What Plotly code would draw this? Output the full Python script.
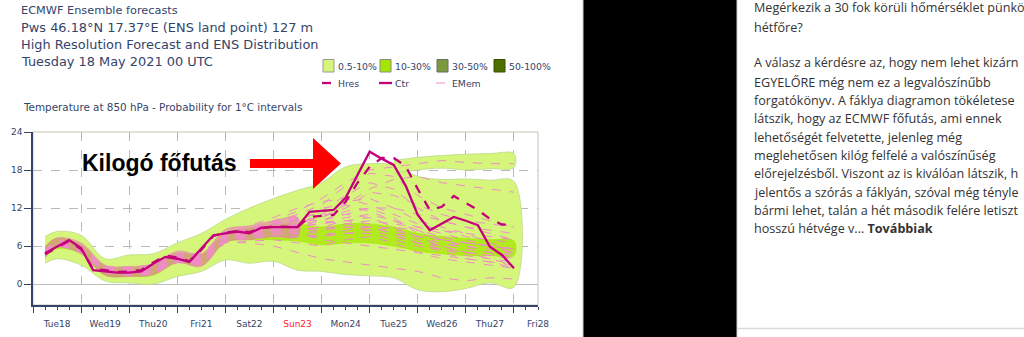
import plotly.graph_objects as go

W, H = 1024, 337
L, R, T, B = 33, 538, 132, 305  # plot area in pixels


def px(x):
    return (x - L) / (R - L)


def py(y):
    return (B - y) / (B - T)


# ---------------- data ----------------
day_labels = ["Tue18", "Wed19", "Thu20", "Fri21", "Sat22", "Sun23",
              "Mon24", "Tue25", "Wed26", "Thu27", "Fri28"]
y_ticks = [0, 6, 12, 18, 24]

hours_det = list(range(6, 241, 6))
ctr = [4.85, 5.9, 6.95, 5.7, 2.2, 2.0, 1.8, 1.8, 2.0, 3.2, 4.3, 4.0, 3.5, 5.6,
       7.7, 8.0, 8.3, 8.0, 8.9, 9.0, 9.0, 9.0, 11.4, 11.6, 11.7, 13.6, 17.2,
       20.9, 19.8, 18.8, 15.5, 10.9, 8.5, 9.5, 10.6, 10.0, 9.3, 5.9, 4.6, 2.5]
hres = [4.7, 5.8, 6.8, 5.5, 2.4, 2.2, 1.9, 2.0, 2.2, 3.4, 4.5, 4.2, 3.6, 5.4,
        7.6, 8.1, 8.4, 8.2, 8.8, 9.1, 9.0, 9.0, 10.6, 10.8, 10.9, 13.0, 16.0,
        18.5, 19.9, 19.9, 18.6, 15.0, 11.7, 12.2, 13.9, 12.8, 11.7, 10.3, 9.4, 9.3]

hours_ens = [6, 12, 24, 36, 48, 60, 72, 84, 96, 108, 120, 132, 144, 156, 168,
             180, 192, 204, 216, 228, 240]
env_upper = [7.5, 8.3, 7.7, 4.0, 4.6, 4.8, 6.5, 8.0, 10.2, 12.0, 13.5, 14.8,
             16.0, 18.5, 19.0, 18.8, 17.0, 16.5, 16.6, 16.4, 16.2]
env_lower = [3.3, 4.0, 3.0, 0.5, 0.2, 0.0, 1.2, 2.0, 3.8, 3.3, 3.6, 2.2, 2.0,
             1.5, 1.3, 1.0, -0.9, -1.2, -0.7, 0.2, -0.5]
mid_upper = [6.0, 7.2, 6.2, 2.8, 2.6, 2.9, 4.8, 4.6, 8.0, 8.8, 9.3, 9.5, 9.0,
             9.5, 9.5, 9.0, 8.0, 7.5, 7.2, 7.0, 6.8]
mid_lower = [4.2, 5.6, 4.8, 1.4, 1.2, 1.4, 3.4, 3.0, 6.6, 7.0, 7.0, 6.8, 6.2,
             6.5, 6.5, 6.0, 5.2, 4.8, 4.5, 4.5, 4.5]

hours_branch = [180, 192, 204, 216, 228, 240]
branch_top = [19.5, 20.0, 20.3, 20.5, 20.6, 20.6]
branch_bottom = [17.5, 18.0, 18.3, 18.0, 18.2, 18.4]

hours_core = [6, 12, 24, 36, 48, 60, 72, 84, 96, 108, 120, 132]
core_upper = [5.8, 7.3, 6.5, 3.0, 2.8, 3.2, 5.2, 4.8, 8.6, 9.2, 10.0, 10.5]
core_lower = [4.2, 5.8, 4.8, 1.4, 1.2, 1.5, 3.4, 2.8, 6.6, 7.0, 7.5, 7.5]

mem01 = [5.2, 6.8, 5.8, 2.5, 2.0, 2.6, 4.5, 4.0, 7.8, 8.5, 9.5, 10.0, 11.5, 14.0, 16.0, 15.0, 12.0, 10.0, 9.0, 8.0, 7.0]
mem02 = [4.8, 6.3, 5.2, 2.0, 1.6, 1.8, 3.8, 3.2, 7.0, 7.5, 8.0, 8.0, 7.5, 8.5, 9.0, 8.0, 6.5, 5.5, 4.5, 4.0, 3.5]
mem03 = [5.0, 6.6, 5.6, 2.4, 2.2, 2.4, 4.4, 4.2, 7.6, 8.8, 9.8, 11.0, 12.5, 15.5, 17.5, 17.0, 14.0, 12.0, 11.0, 10.0, 9.0]
mem04 = [4.6, 6.2, 5.0, 1.8, 1.4, 1.6, 3.4, 3.0, 6.5, 6.8, 7.0, 6.5, 6.0, 7.0, 7.5, 6.5, 5.0, 4.0, 3.5, 3.0, 2.5]
mem05 = [5.4, 7.0, 6.0, 2.8, 2.6, 3.0, 4.8, 4.8, 8.2, 9.2, 10.5, 12.0, 13.0, 13.5, 12.5, 11.0, 9.5, 8.5, 7.5, 7.0, 6.5]
mem06 = [5.1, 6.5, 5.4, 2.1, 1.8, 2.0, 4.0, 3.6, 7.2, 7.8, 8.5, 9.0, 10.0, 11.5, 12.0, 10.5, 8.0, 7.0, 6.5, 6.0, 5.5]
mem07 = [4.9, 6.4, 5.3, 2.3, 2.0, 2.1, 4.1, 3.5, 6.8, 7.2, 7.8, 8.5, 9.0, 10.0, 10.5, 9.0, 7.0, 6.0, 5.0, 4.5, 4.0]
mem08 = [5.3, 6.9, 5.9, 2.6, 2.4, 2.8, 4.6, 4.5, 8.0, 9.0, 9.0, 8.0, 7.0, 6.5, 6.0, 5.5, 5.0, 4.5, 4.0, 3.5, 3.0]
mem09 = [5.0, 6.7, 5.7, 2.2, 1.7, 1.9, 3.9, 3.4, 7.4, 8.0, 8.6, 9.5, 11.0, 13.0, 13.5, 12.0, 10.0, 9.0, 8.0, 6.5, 5.5]
mem10 = [4.7, 6.1, 5.1, 1.9, 1.5, 1.7, 3.6, 3.3, 7.1, 7.6, 8.2, 8.8, 8.5, 9.5, 10.0, 9.5, 9.0, 8.0, 7.0, 6.0, 5.0]
mem11 = [5.2, 6.6, 5.5, 2.5, 2.3, 2.5, 4.3, 3.9, 7.7, 8.4, 9.2, 10.5, 12.0, 12.5, 11.5, 10.0, 8.5, 7.5, 6.5, 6.0, 5.5]
mem12 = [5.0, 6.4, 5.6, 2.0, 1.8, 2.2, 4.0, 3.7, 7.3, 8.1, 8.8, 9.2, 9.5, 10.0, 9.5, 8.5, 7.5, 6.5, 5.5, 5.0, 4.5]
mem13 = [5.1, 6.7, 5.7, 2.4, 2.1, 2.3, 4.2, 4.0, 7.5, 8.6, 10.0, 11.5, 13.5, 16.0, 18.0, 18.5, 19.0, 19.5, 19.2, 19.0, 19.0]
mem14 = [4.8, 6.2, 5.2, 1.9, 1.3, 1.5, 3.5, 3.1, 6.6, 6.5, 6.0, 5.0, 4.0, 3.5, 3.0, 2.5, 2.0, 1.0, 0.5, 1.0, 0.8]
mem15 = [5.0, 6.5, 5.5, 2.3, 2.1, 2.4, 4.3, 3.8, 7.4, 8.3, 9.0, 10.0, 10.5, 12.0, 14.5, 14.0, 12.5, 11.0, 10.0, 9.5, 9.0]
mem16 = [4.9, 6.3, 5.3, 2.0, 1.7, 1.9, 3.9, 3.5, 7.0, 7.4, 8.0, 8.2, 8.0, 8.0, 8.5, 9.0, 8.5, 7.0, 6.0, 5.0, 4.0]
mem17 = [5.2, 6.7, 5.7, 2.4, 2.2, 2.6, 4.5, 4.1, 7.9, 8.7, 9.5, 10.8, 11.0, 11.0, 10.5, 9.0, 7.5, 6.0, 5.0, 4.0, 3.0]
mem18 = [4.8, 6.4, 5.4, 2.1, 1.6, 1.8, 3.7, 3.3, 6.9, 7.3, 7.6, 7.5, 7.5, 8.0, 8.0, 7.0, 6.0, 5.5, 5.0, 4.5, 5.0]
mem19 = [5.1, 6.6, 5.6, 2.2, 1.9, 2.1, 4.1, 3.6, 7.5, 8.2, 9.0, 9.5, 10.5, 12.5, 15.0, 16.5, 17.0, 16.0, 15.5, 15.0, 14.5]
mem20 = [5.0, 6.5, 5.4, 2.3, 2.0, 2.3, 4.2, 3.9, 7.6, 8.4, 8.5, 8.0, 8.5, 9.0, 9.0, 8.0, 7.5, 7.0, 6.0, 5.5, 5.0]
mem21 = [4.7, 6.2, 5.2, 1.9, 1.6, 1.9, 3.8, 3.4, 7.2, 8.0, 8.6, 9.0, 9.5, 10.5, 11.0, 10.0, 9.0, 8.5, 8.0, 7.5, 7.0]
mem22 = [5.3, 6.8, 5.8, 2.6, 2.4, 2.7, 4.6, 4.3, 7.8, 8.8, 9.6, 10.2, 10.0, 9.5, 9.0, 8.0, 6.5, 5.0, 4.0, 3.5, 2.5]
mem23 = [4.9, 6.5, 5.5, 2.2, 1.8, 2.0, 4.0, 3.7, 7.3, 7.9, 8.4, 8.6, 9.0, 9.0, 8.5, 7.5, 6.5, 6.0, 6.5, 6.0, 5.5]
mem24 = [5.1, 6.6, 5.6, 2.3, 1.9, 2.2, 4.2, 3.8, 7.4, 8.2, 8.9, 9.4, 10.0, 11.0, 12.0, 12.0, 11.0, 10.0, 9.0, 8.5, 8.0]
members = [mem01, mem02, mem03, mem04, mem05, mem06, mem07, mem08, mem09,
           mem10, mem11, mem12, mem13, mem14, mem15, mem16, mem17, mem18,
           mem19, mem20, mem21, mem22, mem23, mem24]

# ---------------- styles ----------------
NAVY = "#34446a"
LIME = "#d5f67b"
GREEN = "#a4e600"
OLIVE = "#7a9a3c"
DARKG = "#4b7000"
PINK = "#f08cc8"
MAG = "#c4007a"
FONT = "DejaVu Sans"

fig = go.Figure()


def band(xs, up, lo, color, line_color=None):
    fig.add_trace(go.Scatter(
        x=list(xs) + list(xs)[::-1], y=list(up) + list(lo)[::-1],
        fill="toself", fillcolor=color, mode="lines",
        line=dict(color=line_color or color, width=0.8, shape="spline"),
        hoverinfo="skip", showlegend=False))


band(hours_ens, env_upper, env_lower, LIME, "#bcd98a")
band(hours_branch, branch_top, branch_bottom, LIME, "#bcd98a")
band(hours_ens, mid_upper, mid_lower, "rgba(164,230,0,0.75)")
band(hours_core, core_upper, core_lower, "rgba(236,110,185,0.55)")

for m in members:
    fig.add_trace(go.Scatter(x=hours_ens, y=m, mode="lines",
                             line=dict(color=PINK, width=1, dash="dash"),
                             hoverinfo="skip", showlegend=False))

fig.add_trace(go.Scatter(x=hours_det, y=hres, mode="lines",
                         line=dict(color=MAG, width=2.3, dash="dash"),
                         showlegend=False))
fig.add_trace(go.Scatter(x=hours_det, y=ctr, mode="lines",
                         line=dict(color=MAG, width=2.3),
                         showlegend=False))
# invisible trace that carries the day label axis
fig.add_trace(go.Scatter(x=[0], y=[0], xaxis="x2", mode="markers",
                         marker=dict(opacity=0), hoverinfo="skip",
                         showlegend=False))

XR = [0, 252]
fig.update_layout(
    width=W, height=H,
    margin=dict(l=L, r=W - R, t=T, b=H - B, autoexpand=False),
    paper_bgcolor="white", plot_bgcolor="white",
    font=dict(family=FONT, color=NAVY),
    xaxis=dict(range=XR, tickmode="linear", tick0=0, dtick=24,
               showticklabels=False, ticks="outside", ticklen=6,
               tickcolor=NAVY, tickwidth=1,
               minor=dict(dtick=6, ticks="outside", ticklen=3,
                          tickcolor=NAVY, showgrid=False),
               showgrid=True, gridcolor="#b9b9b9", griddash="dash",
               gridwidth=1, showline=True, linecolor=NAVY, linewidth=1.5,
               zeroline=False),
    xaxis2=dict(range=XR, overlaying="x", anchor="y", side="bottom",
                tickvals=[12 + 24 * i for i in range(len(day_labels))],
                ticktext=[("<span style='color:#ff2020'>%s</span>" % d)
                          if d.startswith("Sun") else d for d in day_labels],
                ticks="outside", ticklen=10, tickcolor="rgba(0,0,0,0)",
                tickfont=dict(size=9, color=NAVY), showgrid=False,
                showline=False, zeroline=False),
    yaxis=dict(range=[-3.3, 24], tickvals=y_ticks, ticks="outside",
               ticklen=7, tickcolor=NAVY, tickfont=dict(size=9, color=NAVY),
               showgrid=True, gridcolor="#b9b9b9", griddash="dash",
               zeroline=True, zerolinecolor="#bdbdbd", zerolinewidth=1,
               showline=True, linecolor=NAVY, linewidth=1.5),
)

shapes = []
# light frame around the plot area
shapes.append(dict(type="rect", xref="paper", yref="paper", x0=0, x1=1,
                   y0=0, y1=1, line=dict(color="#c9c3b5", width=1),
                   layer="below"))

# red arrow
arrow = [(250, 159), (313, 159), (313, 138), (341, 163.5), (313, 189),
         (313, 168), (250, 168)]
path = "M " + " L ".join("%.4f,%.4f" % (px(a), py(b)) for a, b in arrow) + " Z"
shapes.append(dict(type="path", xref="paper", yref="paper", path=path,
                   fillcolor="#ff0000", line=dict(color="#ff0000", width=0)))

# legend boxes
box_cols = [(LIME, "#9a9a9a"), (GREEN, "#8a8a8a"), (OLIVE, "#6a6a6a"),
            (DARKG, "#3a5000")]
box_x = [323, 380, 437, 494]
for (fc, lc), bx in zip(box_cols, box_x):
    shapes.append(dict(type="rect", xref="paper", yref="paper",
                       x0=px(bx), x1=px(bx + 11), y0=py(72), y1=py(59.5),
                       fillcolor=fc, line=dict(color=lc, width=1)))
# legend lines
shapes.append(dict(type="line", xref="paper", yref="paper", x0=px(322),
                   x1=px(335), y0=py(83), y1=py(83),
                   line=dict(color=MAG, width=2.3, dash="dash")))
shapes.append(dict(type="line", xref="paper", yref="paper", x0=px(379),
                   x1=px(392), y0=py(83), y1=py(83),
                   line=dict(color=MAG, width=2.3)))
shapes.append(dict(type="line", xref="paper", yref="paper", x0=px(436),
                   x1=px(449), y0=py(83), y1=py(83),
                   line=dict(color=PINK, width=1, dash="dash")))

# right side: black panel, separators
shapes.append(dict(type="rect", xref="paper", yref="paper", x0=px(583),
                   x1=px(737), y0=py(H + 2), y1=py(-2), fillcolor="#000000",
                   line=dict(color="#cfcfcf", width=1)))
shapes.append(dict(type="line", xref="paper", yref="paper", x0=px(738),
                   x1=px(1030), y0=py(328.5), y1=py(328.5),
                   line=dict(color="#d9d9de", width=1.5)))

annotations = []


def text(x, y, s, size, color=NAVY, family=FONT, xanchor="left", bold=False):
    annotations.append(dict(
        xref="paper", yref="paper", x=px(x), y=py(y), text=("<b>%s</b>" % s) if bold else s,
        showarrow=False, xanchor=xanchor, yanchor="middle",
        font=dict(size=size, color=color, family=family)))


text(19, 10, "ECMWF Ensemble forecasts", 11.3)
text(19, 27, "Pws 46.18°N 17.37°E (ENS land point) 127 m", 12.9)
text(19, 44, "High Resolution Forecast and ENS Distribution", 12.9)
text(19, 61, "Tuesday 18 May 2021 00 UTC", 12.9)
text(21, 106.5, "Temperature at 850 hPa - Probability for 1°C intervals", 10.4)

leg_txt = [("0.5-10%", 336), ("10-30%", 393), ("30-50%", 450), ("50-100%", 507)]
for s, x in leg_txt:
    text(x, 66, s, 9.3)
for s, x in [("Hres", 336), ("Ctr", 393), ("EMem", 450)]:
    text(x, 83, s, 9.3)

text(159, 163, "Kilogó főfutás", 23, color="#000000",
     family="Liberation Sans", xanchor="center", bold=True)

body = [
    (8, "Megérkezik a 30 fok körüli hőmérséklet pünkö"),
    (27, "hétfőre?"),
    (63, "A válasz a kérdésre az, hogy nem lehet kizárn"),
    (82, "EGYELŐRE még nem ez a legvalószínűbb"),
    (100, "forgatókönyv. A fáklya diagramon tökéletese"),
    (118.5, "látszik, hogy az ECMWF főfutás, ami ennek"),
    (137, "lehetőségét felvetette, jelenleg még"),
    (155, "meglehetősen kilóg felfelé a valószínűség"),
    (173.5, "előrejelzésből. Viszont az is kiválóan látszik, h"),
    (192, "jelentős a szórás a fáklyán, szóval még tényle"),
    (210, "bármi lehet, talán a hét második felére letiszt"),
]
for y, s in body:
    text(752, y, s, 12.6, color="#333333", family="Open Sans")
text(752, 228.5, "hosszú hétvége v... <b>Továbbiak</b>", 12.6, color="#333333",
     family="Open Sans")

fig.update_layout(shapes=shapes, annotations=annotations)
fig.write_html("out.html")
